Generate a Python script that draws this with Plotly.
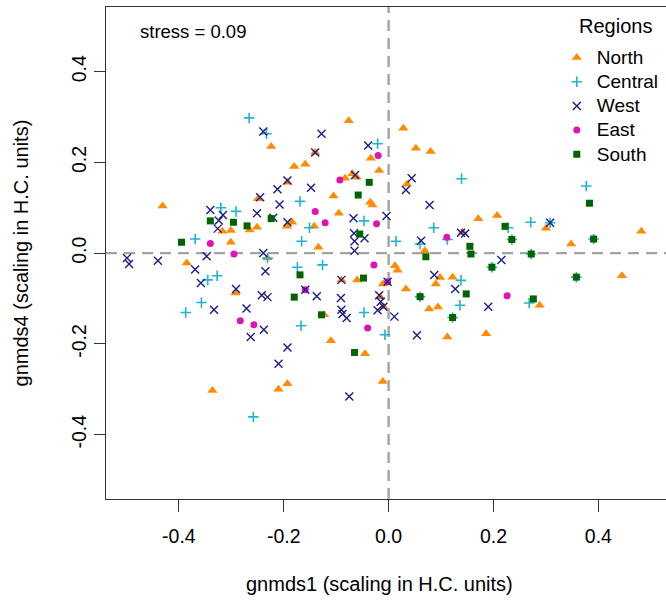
import plotly.graph_objects as go

# ---- data (gnmds1, gnmds4) ----
north_x = [-0.431, -0.317, -0.301, -0.265, -0.251, -0.301, -0.385, -0.076, -0.224, -0.140,
           -0.034, -0.180, -0.159, -0.018, -0.193, -0.083, -0.069, -0.061, -0.105, -0.249,
           -0.035, -0.031, -0.095, -0.184, -0.194, -0.142, -0.134, -0.231, 0.028, 0.052,
           0.080, 0.035, 0.171, 0.207, 0.141, 0.069, 0.012, 0.017, 0.300, 0.348,
           0.482, -0.292, -0.336, -0.090, -0.060, -0.011, -0.016, -0.010, -0.123, -0.110,
           -0.045, -0.210, -0.193, -0.011, 0.098, 0.122, 0.090, 0.033, 0.077, 0.094,
           0.112, 0.186, 0.445, 0.288]
north_y = [0.104, 0.048, 0.050, 0.051, 0.057, 0.024, -0.022, 0.292, 0.235, 0.222,
           0.209, 0.191, 0.196, 0.182, 0.156, 0.165, 0.175, 0.167, 0.126, 0.120,
           0.112, 0.106, 0.088, 0.068, 0.059, 0.059, 0.013, -0.011, 0.275, 0.231,
           0.224, 0.152, 0.076, 0.083, 0.046, 0.005, -0.028, -0.038, 0.055, 0.020,
           0.048, -0.088, -0.303, -0.059, -0.059, -0.068, -0.097, -0.118, -0.136, -0.193,
           -0.222, -0.300, -0.288, -0.283, -0.054, -0.053, -0.068, -0.079, -0.123, -0.119,
           -0.185, -0.178, -0.050, -0.115]

central_x = [-0.266, -0.320, -0.291, -0.369, -0.233, -0.021, -0.169, -0.047, -0.151, -0.166,
             -0.231, -0.174, -0.126, 0.139, 0.228, 0.271, 0.086, 0.112, 0.014, 0.060,
             0.377, 0.308, 0.235, 0.272, 0.197, 0.391, 0.358, 0.060, 0.122, 0.268,
             -0.327, -0.345, -0.357, -0.387, -0.167, -0.047, -0.007, -0.258, 0.138, 0.136]
central_y = [0.298, 0.100, 0.092, 0.031, 0.263, 0.241, 0.114, 0.071, 0.056, 0.026,
             -0.011, -0.031, -0.026, 0.164, 0.056, 0.068, 0.056, 0.030, 0.026, 0.020,
             0.148, 0.067, 0.030, -0.002, -0.031, 0.031, -0.053, -0.096, -0.142, -0.110,
             -0.050, -0.059, -0.109, -0.131, -0.160, -0.131, -0.180, -0.361, -0.060, -0.115]

west_x = [-0.340, -0.316, -0.324, -0.326, -0.499, -0.495, -0.440, -0.347, -0.369, -0.239,
          -0.128, -0.039, -0.140, -0.193, -0.064, -0.212, -0.148, -0.245, -0.208, -0.251,
          -0.004, -0.220, -0.193, -0.067, -0.066, -0.065, -0.065, -0.046, -0.239, -0.235,
          0.044, 0.033, 0.078, 0.138, 0.146, 0.062, 0.215, 0.308, -0.358, -0.291,
          -0.333, -0.271, -0.263, -0.090, -0.002, -0.242, -0.231, -0.159, -0.137, -0.091,
          -0.018, -0.015, -0.010, -0.021, -0.090, -0.088, -0.080, -0.238, -0.193, -0.210,
          -0.075, 0.087, 0.127, 0.190, 0.011, 0.054]
west_y = [0.095, 0.084, 0.072, 0.054, -0.011, -0.024, -0.017, -0.007, -0.036, 0.268,
          0.263, 0.237, 0.222, 0.160, 0.172, 0.141, 0.144, 0.123, 0.107, 0.088,
          0.082, 0.078, 0.068, 0.077, 0.044, 0.026, 0.005, 0.033, 0.000, -0.040,
          0.165, 0.139, 0.106, 0.045, 0.043, 0.027, -0.015, 0.067, -0.066, -0.079,
          -0.125, -0.122, -0.185, -0.059, -0.063, -0.093, -0.097, -0.081, -0.095, -0.099,
          -0.093, -0.107, -0.118, -0.126, -0.125, -0.134, -0.143, -0.169, -0.208, -0.244,
          -0.316, -0.048, -0.079, -0.118, -0.140, -0.181]

east_x = [-0.340, -0.295, -0.020, -0.093, -0.140, -0.121, -0.023, -0.028, 0.111, 0.226,
          -0.283, -0.159, -0.002, -0.257, -0.040]
east_y = [0.021, -0.002, 0.215, 0.161, 0.092, 0.067, 0.065, -0.026, 0.035, -0.094,
          -0.149, -0.081, -0.063, -0.158, -0.165]

south_x = [-0.340, -0.296, -0.270, -0.395, -0.037, -0.058, -0.224, -0.055, 0.222, 0.235,
           0.071, 0.155, 0.157, 0.272, 0.197, 0.383, 0.391, -0.169, -0.048, -0.180,
           -0.128, -0.065, 0.148, 0.060, 0.122, 0.358, 0.276]
south_y = [0.071, 0.068, 0.060, 0.024, 0.156, 0.128, 0.076, 0.042, 0.059, 0.030,
           -0.008, 0.015, -0.002, -0.002, -0.031, 0.110, 0.031, -0.048, -0.055, -0.097,
           -0.136, -0.219, -0.090, -0.096, -0.142, -0.053, -0.101]

tick_vals = [-0.4, -0.2, 0.0, 0.2, 0.4]
tick_text = ["-0.4", "-0.2", "0.0", "0.2", "0.4"]

FONT = "Liberation Sans, Arial, sans-serif"
C_NORTH = "#FF8C00"
C_CENTRAL = "#1FB3D6"
C_WEST = "#1C1C8C"
C_EAST = "#E012B4"
C_SOUTH = "#006400"

def leg(name):
    return '<span style="font-size:19px">%s</span>' % name

fig = go.Figure()
fig.add_trace(go.Scatter(x=north_x, y=north_y, mode="markers", name=leg("North"), legendrank=1,
                         marker=dict(symbol="triangle-up", size=9, color=C_NORTH, line=dict(width=0))))
fig.add_trace(go.Scatter(x=central_x, y=central_y, mode="markers", name=leg("Central"), legendrank=2,
                         marker=dict(symbol="cross-thin-open", size=7.5, color=C_CENTRAL,
                                     line=dict(width=1.6, color=C_CENTRAL))))
fig.add_trace(go.Scatter(x=east_x, y=east_y, mode="markers", name=leg("East"), legendrank=4,
                         marker=dict(symbol="circle", size=7, color=C_EAST, line=dict(width=0))))
fig.add_trace(go.Scatter(x=west_x, y=west_y, mode="markers", name=leg("West"), legendrank=3,
                         marker=dict(symbol="x-thin-open", size=8, color=C_WEST,
                                     line=dict(width=1.4, color=C_WEST))))
fig.add_trace(go.Scatter(x=south_x, y=south_y, mode="markers", name=leg("South"), legendrank=5,
                         marker=dict(symbol="square", size=7, color=C_SOUTH, line=dict(width=0))))

dash = dict(color="#A3A3A3", width=2.4, dash="11px,7px")
fig.add_shape(type="line", xref="paper", yref="y", x0=0, x1=1, y0=0, y1=0, line=dash, layer="below")
fig.add_shape(type="line", xref="x", yref="paper", x0=0, x1=0, y0=0, y1=1, line=dash, layer="below")

fig.add_annotation(text="stress = 0.09", xref="paper", yref="paper", x=0.057, y=0.951,
                   xanchor="left", yanchor="middle", showarrow=False,
                   font=dict(family=FONT, size=18.5, color="black"))
fig.add_annotation(text="Regions", xref="paper", yref="paper", x=0.841, y=0.962,
                   xanchor="left", yanchor="middle", showarrow=False,
                   font=dict(family=FONT, size=20, color="black"))
fig.add_annotation(text="gnmds1 (scaling in H.C. units)", xref="paper", yref="paper",
                   x=0.489, y=-0.172, xanchor="center", yanchor="middle", showarrow=False,
                   font=dict(family=FONT, size=20, color="black"))
fig.add_annotation(text="gnmds4 (scaling in H.C. units)", xref="paper", yref="paper",
                   x=-0.151, y=0.5, xanchor="center", yanchor="middle", showarrow=False,
                   textangle=-90, font=dict(family=FONT, size=20, color="black"))

fig.update_layout(
    width=666, height=600,
    margin=dict(l=106, r=0, t=7, b=101),
    paper_bgcolor="white", plot_bgcolor="white",
    font=dict(family=FONT, size=19, color="black"),
    showlegend=True,
    legend=dict(x=0.805, y=0.932, xanchor="left", yanchor="top",
                bgcolor="rgba(0,0,0,0)", font=dict(family=FONT, size=16.3, color="black"),
                itemwidth=30, traceorder="normal"),
    xaxis=dict(range=[-0.539, 0.529], tickvals=tick_vals, ticktext=tick_text,
               showgrid=False, zeroline=False, showline=True, mirror=True,
               linecolor="#333333", linewidth=1.3, ticks="outside", ticklen=12,
               tickwidth=1.3, tickcolor="#333333", ticklabelstandoff=7,
               tickfont=dict(family=FONT, size=19.5, color="black")),
    yaxis=dict(range=[-0.542, 0.5425], tickvals=tick_vals, ticktext=tick_text,
               showgrid=False, zeroline=False, showline=True, mirror=False,
               linecolor="#333333", linewidth=1.3, ticks="outside", ticklen=11,
               tickwidth=1.3, tickcolor="#333333", tickangle=-90,
               tickfont=dict(family=FONT, size=19.5, color="black")),
)

fig.write_html("out.html")
